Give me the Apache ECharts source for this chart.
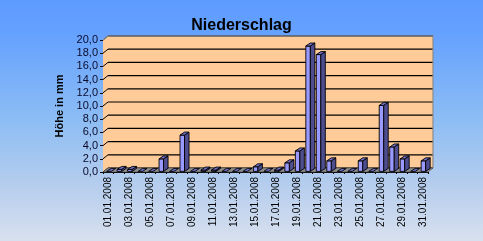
<!DOCTYPE html>
<html>
<head>
<meta charset="utf-8">
<script src="https://cdn.jsdelivr.net/npm/echarts@6/dist/echarts.min.js"></script>
<style>
html,body{margin:0;padding:0;}
#c{width:483px;height:241px;}
</style>
</head>
<body>
<div id="c"></div>
<script>
var categories = ['01.01.2008','02.01.2008','03.01.2008','04.01.2008','05.01.2008','06.01.2008','07.01.2008','08.01.2008','09.01.2008','10.01.2008','11.01.2008','12.01.2008','13.01.2008','14.01.2008','15.01.2008','16.01.2008','17.01.2008','18.01.2008','19.01.2008','20.01.2008','21.01.2008','22.01.2008','23.01.2008','24.01.2008','25.01.2008','26.01.2008','27.01.2008','28.01.2008','29.01.2008','30.01.2008','31.01.2008'];
var rain = [0, 0.3, 0.3, 0, 0, 1.9, 0, 5.5, 0, 0.2, 0.2, 0, 0, 0, 0.7, 0, 0.2, 1.3, 3.1, 19.0, 17.7, 1.6, 0, 0, 1.6, 0, 10.0, 3.7, 1.9, 0, 1.6];
var yTicks = [0, 2, 4, 6, 8, 10, 12, 14, 16, 18, 20];
var titleText = 'Niederschlag';
var yName = 'Höhe in mm';

var DX = 5, DY = -4;      // wall depth
var BDX = 4.5, BDY = -3;  // bar depth

var chart = echarts.init(document.getElementById('c'), null, {renderer: 'canvas'});

function wallsRender(params, api) {
  var cs = params.coordSys;
  var x0 = cs.x, x1 = cs.x + cs.width;
  var yB = api.coord([0, 0])[1], yT = api.coord([0, yTicks[yTicks.length - 1]])[1];
  var ch = [];
  // side wall
  ch.push({type: 'polygon', shape: {points: [[x0, yT], [x0 + DX, yT + DY], [x0 + DX, yB + DY], [x0, yB]]},
    style: {fill: '#ffcc99', stroke: null}});
  // back wall
  ch.push({type: 'rect', shape: {x: x0 + DX, y: yT + DY, width: x1 - x0, height: yB - yT},
    style: {fill: '#ffcc99', stroke: null}});
  // gridlines
  yTicks.forEach(function (v) {
    var y = api.coord([0, v])[1];
    ch.push({type: 'line', shape: {x1: x0 + DX, y1: y + DY, x2: x1 + DX, y2: y + DY},
      style: {stroke: '#000', lineWidth: 1.2}});
    ch.push({type: 'line', shape: {x1: x0, y1: y, x2: x0 + DX, y2: y + DY},
      style: {stroke: '#000', lineWidth: 1}});
  });
  // wall borders
  ch.push({type: 'polyline', shape: {points: [[x0, yT], [x0 + DX, yT + DY], [x1 + DX, yT + DY], [x1 + DX, yB + DY]]},
    style: {stroke: '#8a8a8a', lineWidth: 1.2, fill: null}});
  // floor
  ch.push({type: 'polygon', shape: {points: [[x0, yB], [x1, yB], [x1 + DX, yB + DY], [x0 + DX, yB + DY]]},
    style: {fill: '#8c8c8c', stroke: '#444', lineWidth: 0.6}});
  return {type: 'group', children: ch};
}

function barRender(params, api) {
  var i = api.value(0), v = api.value(1);
  var top = api.coord([i, v]);
  var base = api.coord([i, 0]);
  var w = 4.5;
  var xl = top[0] - 1.6;
  var by = base[1] - 0.6;
  var cy = top[1] - 0.6;
  var ch = [];
  if (by - cy > 0.5) {
    ch.push({type: 'rect', shape: {x: xl, y: cy, width: w, height: by - cy},
      style: {fill: '#9999ff', stroke: '#000', lineWidth: 0.9}});
    ch.push({type: 'polygon', shape: {points: [[xl + w, cy], [xl + w + BDX, cy + BDY], [xl + w + BDX, by + BDY], [xl + w, by]]},
      style: {fill: '#4d4d8f', stroke: '#000', lineWidth: 0.9}});
  }
  ch.push({type: 'polygon', shape: {points: [[xl, cy], [xl + w, cy], [xl + w + BDX, cy + BDY], [xl + BDX, cy + BDY]]},
    style: {fill: '#7070c8', stroke: '#000', lineWidth: 0.9}});
  return {type: 'group', children: ch};
}

var option = {
  animation: false,
  backgroundColor: {
    type: 'linear', x: 0, y: 0, x2: 0, y2: 1,
    colorStops: [
      {offset: 0, color: '#5d9bff'},
      {offset: 0.13, color: '#64a1ff'},
      {offset: 0.5, color: '#8dbdf4'},
      {offset: 0.75, color: '#b3ccee'},
      {offset: 1, color: '#d8e0ee'}
    ]
  },
  title: {
    text: titleText, left: 'center', top: 13,
    textStyle: {fontFamily: 'Liberation Sans, Arial, sans-serif', fontSize: 16, fontWeight: 'bold', color: '#000'}
  },
  grid: {left: 103, right: 55, top: 40, bottom: 69, containLabel: false},
  xAxis: {
    type: 'category', data: categories, boundaryGap: true,
    axisLine: {show: true, lineStyle: {color: '#000', width: 1}},
    axisTick: {show: true, interval: 0, length: 2, lineStyle: {color: '#000'}},
    axisLabel: {interval: 1, rotate: 90, margin: 5, color: '#000', fontSize: 10,
      fontFamily: 'Liberation Sans Narrow, Arial Narrow, Liberation Sans, sans-serif'},
    splitLine: {show: false}
  },
  yAxis: {
    type: 'value', min: 0, max: 20, interval: 2,
    name: yName, nameLocation: 'middle', nameRotate: 90, nameGap: 36,
    nameTextStyle: {fontFamily: 'Liberation Sans, Arial, sans-serif', fontSize: 11, fontWeight: 'bold', color: '#000'},
    axisLine: {show: true, lineStyle: {color: '#000', width: 1}},
    axisTick: {show: true, length: 3, lineStyle: {color: '#000'}},
    axisLabel: {margin: 5, color: '#0a0a2a', fontSize: 11, fontFamily: 'Liberation Sans, Arial, sans-serif',
      formatter: function (v) { return v.toFixed(1).replace('.', ','); }},
    splitLine: {show: false}
  },
  series: [
    {type: 'custom', z: 1, silent: true, clip: false, renderItem: wallsRender, data: [[0, 0]]},
    {type: 'custom', z: 2, silent: true, clip: false, renderItem: barRender,
      encode: {x: 0, y: 1},
      data: rain.map(function (v, i) { return [i, v]; })}
  ]
};
chart.setOption(option);
</script>
</body>
</html>
